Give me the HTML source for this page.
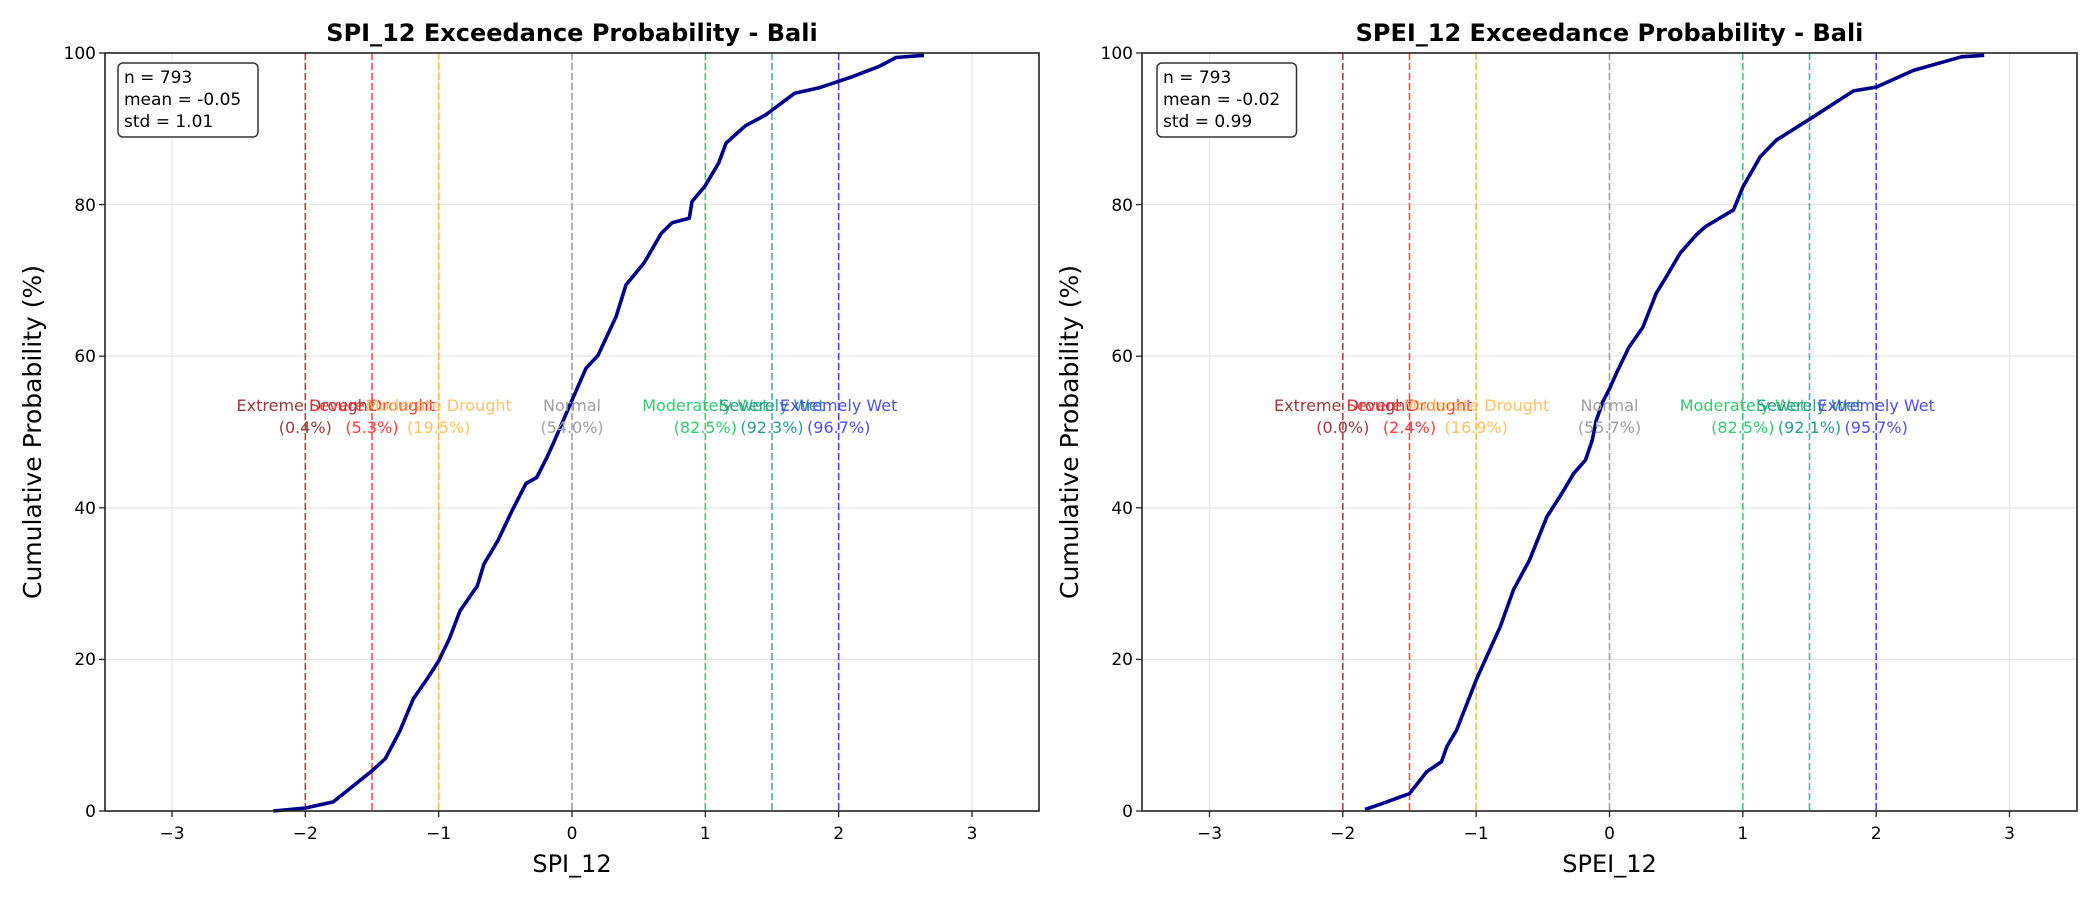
<!DOCTYPE html>
<html><head><meta charset="utf-8"><style>
html,body{margin:0;padding:0;background:#fff;}
svg{display:block;font-family:"DejaVu Sans","Liberation Sans",sans-serif;}
.t{font-size:17px;fill:#000;}
.lb{font-size:16px;}
</style></head><body>
<svg id="s" width="2100" height="900" viewBox="0 0 2100 900" xmlns="http://www.w3.org/2000/svg">
<rect width="2100" height="900" fill="#fff"/>
<g id="g1"></g>
<text x="572" y="41" text-anchor="middle" font-size="24" font-weight="bold">SPI_12 Exceedance Probability - Bali</text>
<text x="1609.5" y="41" text-anchor="middle" font-size="24" font-weight="bold">SPEI_12 Exceedance Probability - Bali</text>
<g class="t" text-anchor="end">
<text x="96" y="59">100</text><text x="96" y="211">80</text><text x="96" y="362">60</text><text x="96" y="514">40</text><text x="96" y="665">20</text><text x="96" y="817">0</text>
<text x="1133" y="59">100</text><text x="1133" y="211">80</text><text x="1133" y="362">60</text><text x="1133" y="514">40</text><text x="1133" y="665">20</text><text x="1133" y="817">0</text>
</g>
<g class="t" text-anchor="middle">
<text x="172" y="839">−3</text><text x="305.3" y="839">−2</text><text x="438.7" y="839">−1</text><text x="572" y="839">0</text><text x="705.3" y="839">1</text><text x="838.7" y="839">2</text><text x="972" y="839">3</text>
<text x="1209.5" y="839">−3</text><text x="1342.8" y="839">−2</text><text x="1476.2" y="839">−1</text><text x="1609.5" y="839">0</text><text x="1742.8" y="839">1</text><text x="1876.2" y="839">2</text><text x="2009.5" y="839">3</text>
</g>
<text x="572" y="872" text-anchor="middle" font-size="24">SPI_12</text>
<text x="1609.5" y="872" text-anchor="middle" font-size="24">SPEI_12</text>
<text transform="translate(41,432) rotate(-90)" text-anchor="middle" font-size="25">Cumulative Probability (%)</text>
<text transform="translate(1078,432) rotate(-90)" text-anchor="middle" font-size="25">Cumulative Probability (%)</text>

<g class="lb" text-anchor="middle">
<text x="305.3" y="411" fill="#9c3a3a">Extreme Drought</text><text x="305.3" y="433" fill="#9c3a3a">(0.4%)</text>
<text x="372" y="411" fill="#ff3b3b">Severe Drought</text><text x="372" y="433" fill="#ff3b3b">(5.3%)</text>
<text x="438.7" y="411" fill="#ffc066">Moderate Drought</text><text x="438.7" y="433" fill="#ffc066">(19.5%)</text>
<text x="572" y="411" fill="#a0a0a0">Normal</text><text x="572" y="433" fill="#a0a0a0">(54.0%)</text>
<text x="705.3" y="411" fill="#33cc6e">Moderately Wet</text><text x="705.3" y="433" fill="#33cc6e">(82.5%)</text>
<text x="772" y="411" fill="#2a9d94">Severely Wet</text><text x="772" y="433" fill="#2a9d94">(92.3%)</text>
<text x="838.7" y="411" fill="#5050f0">Extremely Wet</text><text x="838.7" y="433" fill="#5050f0">(96.7%)</text>

<text x="1342.8" y="411" fill="#9c3a3a">Extreme Drought</text><text x="1342.8" y="433" fill="#9c3a3a">(0.0%)</text>
<text x="1409.5" y="411" fill="#ff3b3b">Severe Drought</text><text x="1409.5" y="433" fill="#ff3b3b">(2.4%)</text>
<text x="1476.2" y="411" fill="#ffc066">Moderate Drought</text><text x="1476.2" y="433" fill="#ffc066">(16.9%)</text>
<text x="1609.5" y="411" fill="#a0a0a0">Normal</text><text x="1609.5" y="433" fill="#a0a0a0">(55.7%)</text>
<text x="1742.8" y="411" fill="#33cc6e">Moderately Wet</text><text x="1742.8" y="433" fill="#33cc6e">(82.5%)</text>
<text x="1809.5" y="411" fill="#2a9d94">Severely Wet</text><text x="1809.5" y="433" fill="#2a9d94">(92.1%)</text>
<text x="1876.2" y="411" fill="#5050f0">Extremely Wet</text><text x="1876.2" y="433" fill="#5050f0">(95.7%)</text>
</g>

<rect x="118" y="63" width="140" height="74" rx="5" fill="#fff" stroke="#333" stroke-width="1.5"/>
<g class="t" font-size="16.5"><text x="124" y="83">n = 793</text><text x="124" y="105">mean = -0.05</text><text x="124" y="127">std = 1.01</text></g>
<rect x="1157" y="63" width="139.5" height="74" rx="5" fill="#fff" stroke="#333" stroke-width="1.5"/>
<g class="t" font-size="16.5"><text x="1163" y="83">n = 793</text><text x="1163" y="105">mean = -0.02</text><text x="1163" y="127">std = 0.99</text></g>
</svg>
<script>
(function(){
var g=document.getElementById('g1'),NS='http://www.w3.org/2000/svg';
function el(n,a){var e=document.createElementNS(NS,n);for(var k in a)e.setAttribute(k,a[k]);g.appendChild(e);return e;}
var panels=[{x0:572,L:105,R:1039,
pts:[[-2.24,0],[-2.0,0.4],[-1.79,1.2],[-1.5,5.3],[-1.4,6.9],[-1.29,10.6],[-1.19,14.8],[-1.08,17.6],[-1.0,19.8],[-0.92,22.7],[-0.84,26.4],[-0.71,29.7],[-0.66,32.6],[-0.555,35.7],[-0.45,39.6],[-0.345,43.2],[-0.265,44],[-0.187,46.7],[-0.14,48.5],[0,54.2],[0.105,58.4],[0.195,60.1],[0.33,65.2],[0.405,69.4],[0.54,72.3],[0.67,76.2],[0.75,77.6],[0.88,78.2],[0.9,80.4],[1.0,82.5],[1.1,85.5],[1.155,88.1],[1.3,90.4],[1.45,91.8],[1.67,94.7],[1.85,95.4],[2.09,96.8],[2.3,98.2],[2.43,99.4],[2.64,99.7]]},
{x0:1609.5,L:1142,R:2077,
pts:[[-1.834,0.2],[-1.67,1.2],[-1.5,2.3],[-1.37,5.2],[-1.26,6.5],[-1.22,8.5],[-1.146,10.7],[-1.097,12.9],[-1.0,17.3],[-0.92,20.4],[-0.82,24.3],[-0.72,29.2],[-0.6,33.1],[-0.47,38.8],[-0.35,42.1],[-0.27,44.5],[-0.18,46.3],[-0.13,48.9],[-0.1,51.5],[-0.05,54],[0,55.7],[0.05,57.7],[0.146,61.2],[0.25,63.8],[0.35,68.3],[0.42,70.3],[0.53,73.6],[0.65,76],[0.72,77.1],[0.93,79.3],[1.0,82.3],[1.13,86.3],[1.25,88.5],[1.53,91.6],[1.83,95.0],[2.0,95.5],[2.28,97.7],[2.64,99.5],[2.81,99.7]]}];
var lines=[[-2,'#8b0000'],[-1.5,'#ff0000'],[-1,'#ffa500'],[0,'#808080'],[1,'#00b84a'],[1.5,'#008b8b'],[2,'#0000ff']];
var T=53,B=811,S=(B-T)/100,U=133.333;
panels.forEach(function(p){
 for(var v=-3;v<=3;v++){var x=p.x0+v*U;el('line',{x1:x,x2:x,y1:T,y2:B,stroke:'#e8e8e8','stroke-width':1.3});}
 for(var q=20;q<=80;q+=20){var y=B-q*S;el('line',{x1:p.L,x2:p.R,y1:y,y2:y,stroke:'#e8e8e8','stroke-width':1.3});}
 lines.forEach(function(l){var x=p.x0+l[0]*U;el('line',{x1:x,x2:x,y1:T,y2:B,stroke:l[1],'stroke-opacity':0.7,'stroke-width':1.6,'stroke-dasharray':'7,3'});});
 var s=p.pts.map(function(a){return (p.x0+a[0]*U).toFixed(1)+','+(B-a[1]*S).toFixed(1);}).join(' ');
 el('polyline',{points:s,fill:'none',stroke:'#00008b','stroke-width':3.6,'stroke-linejoin':'round'});
 el('rect',{x:p.L,y:T,width:p.R-p.L,height:B-T,fill:'none',stroke:'#222','stroke-width':1.6});
 for(var v=-3;v<=3;v++){var x=p.x0+v*U;el('line',{x1:x,x2:x,y1:B,y2:B+6,stroke:'#222','stroke-width':1.3});}
 for(var q=0;q<=100;q+=20){var y=B-q*S;el('line',{x1:p.L-6,x2:p.L,y1:y,y2:y,stroke:'#222','stroke-width':1.3});}
});
})();
</script>
</body></html>
